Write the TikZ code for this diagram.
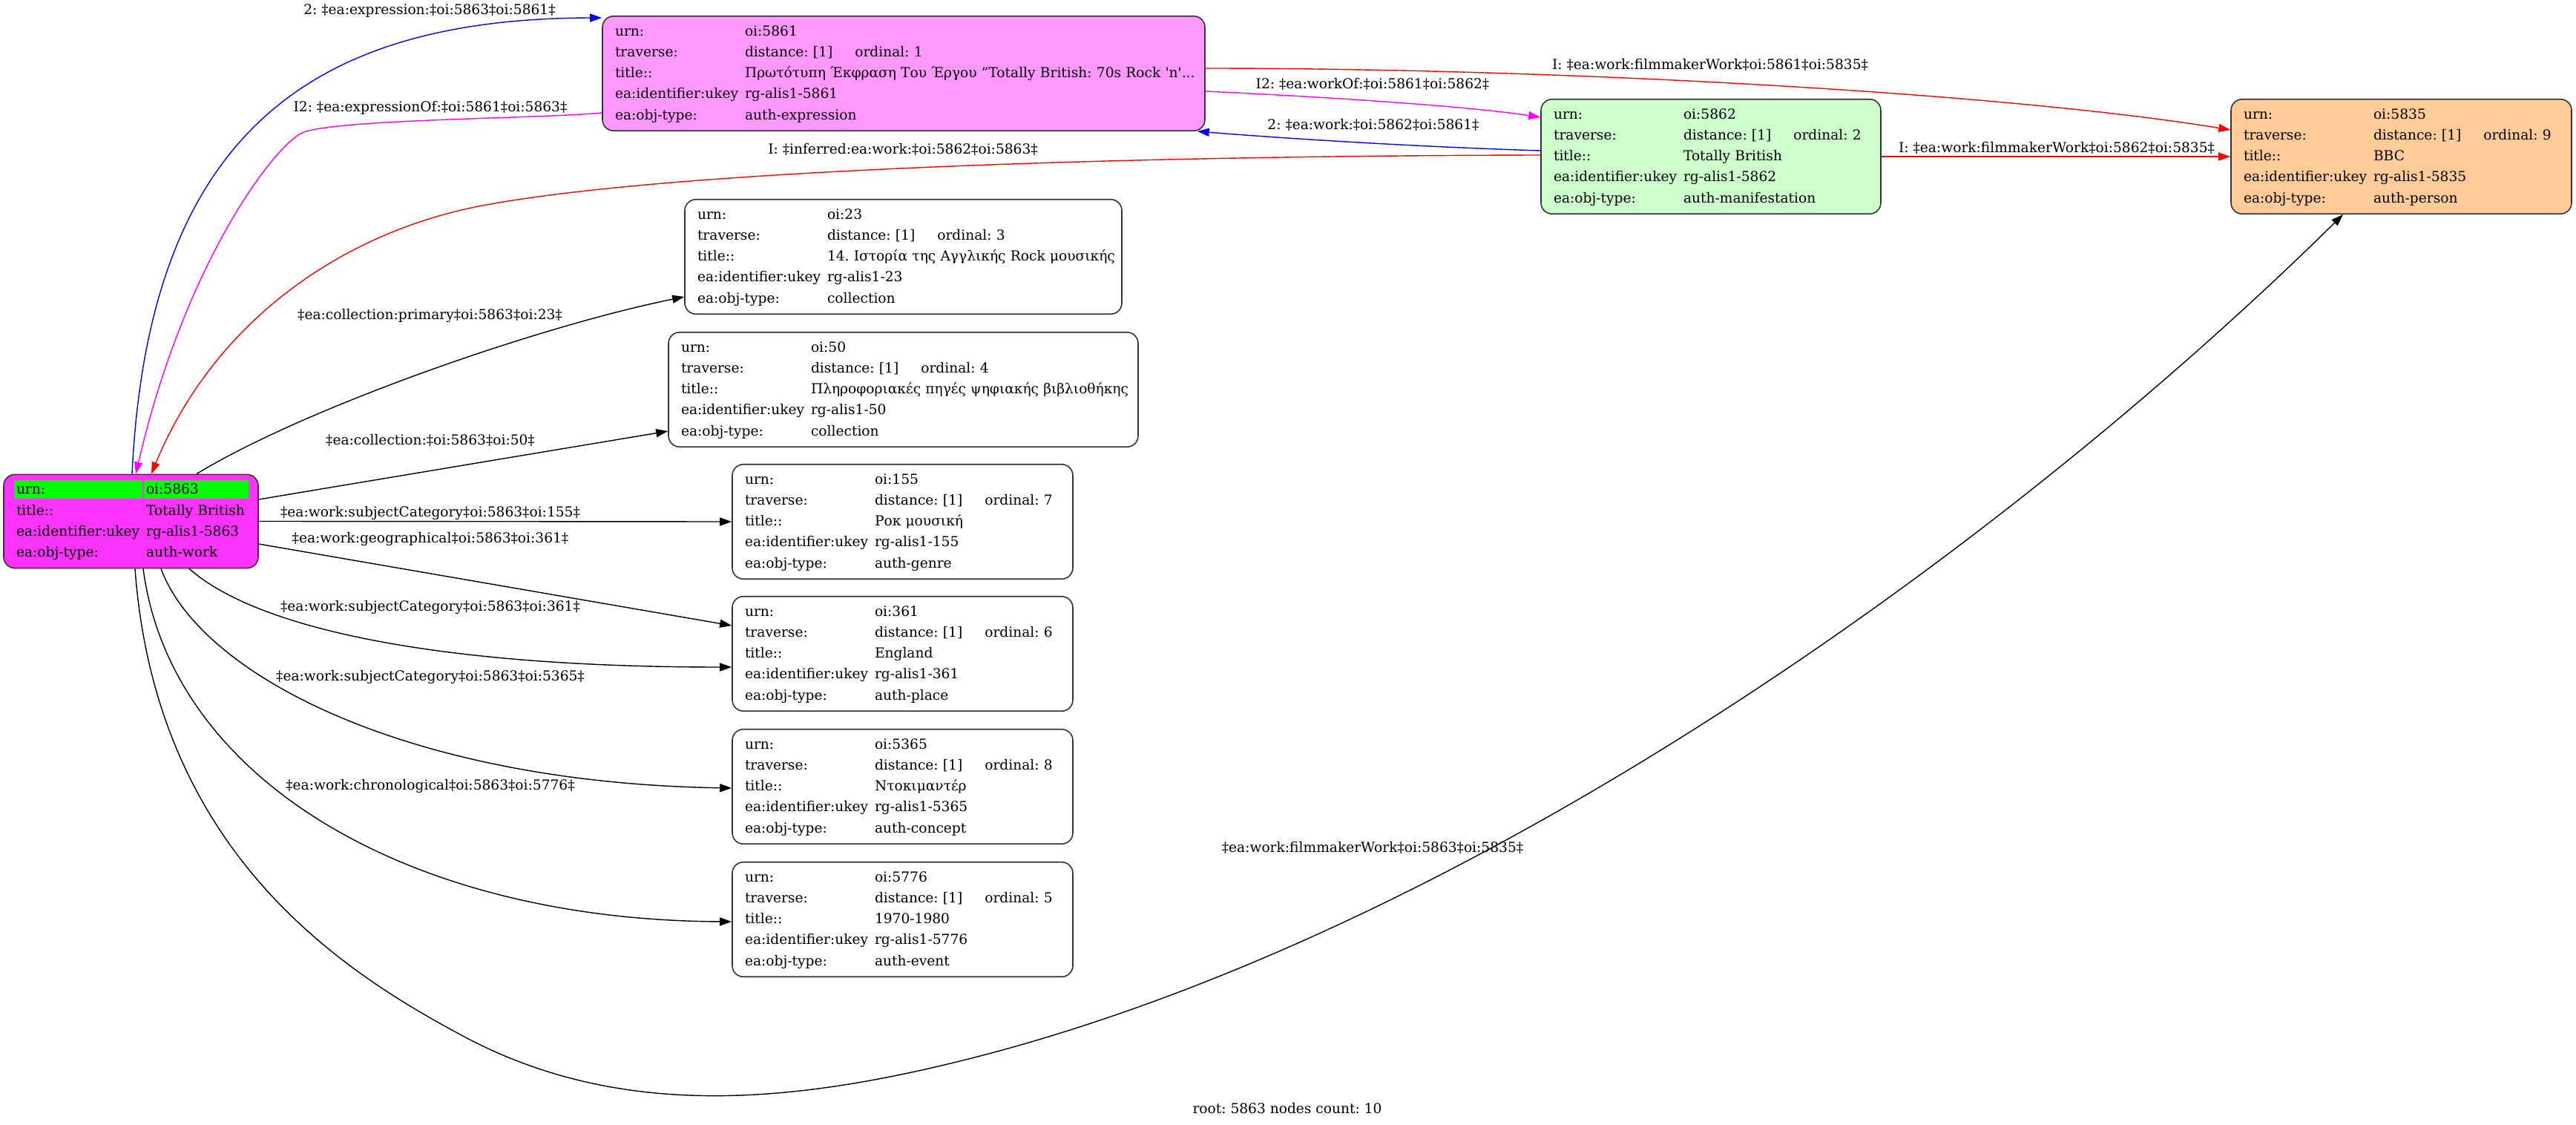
\documentclass[tikz,border=0pt]{standalone}
\usepackage{fontspec}
\setmainfont{DejaVu Serif}
\usepackage{tikz}
\usetikzlibrary{arrows.meta}

\definecolor{rootfill}{HTML}{FF33FF}
\definecolor{urngreen}{HTML}{00FF00}
\definecolor{exprfill}{HTML}{FF99FF}
\definecolor{manifill}{HTML}{CCFFCC}
\definecolor{personfill}{HTML}{FFCC99}
\definecolor{linkblue}{HTML}{0000FF}
\definecolor{linkred}{HTML}{FF0000}
\definecolor{linkmagenta}{HTML}{FF00FF}

\newcommand{\recordtab}[4]{%
\begin{tabular}{@{}p{3.5cm}@{}l@{\hspace{0.6cm}}l@{}}
urn: & \multicolumn{2}{@{}l@{}}{oi:#1}\\
traverse: & distance: [1] & ordinal: #2\\
title:: & \multicolumn{2}{@{}l@{}}{#3}\\
ea:identifier:ukey & \multicolumn{2}{@{}l@{}}{rg-alis1-#1}\\
ea:obj-type: & \multicolumn{2}{@{}l@{}}{#4}
\end{tabular}}

\frenchspacing

\begin{document}
\begin{tikzpicture}[line width=0.8pt,
  font=\fontsize{10.6}{16.1}\selectfont\frenchspacing,
  recbox/.style={draw=black!80, line width=0.9pt, rounded corners=0.3cm, inner xsep=0.34cm, inner ysep=0.13cm, align=left},
  link/.style={-{Triangle[length=0.32cm,width=0.22cm]}},
  lbl/.style={inner sep=0pt}]

\useasboundingbox (0,0) rectangle (69.44,-30.32);

\node[recbox, fill=rootfill, text width=6.18cm,
  path picture={\fill[urngreen, sharp corners] ([shift={(0.28,-0.16)}]path picture bounding box.north west) rectangle ++(3.46,-0.5);
                \fill[urngreen, sharp corners] ([shift={(3.78,-0.16)}]path picture bounding box.north west) rectangle ++(2.82,-0.5);}]
  (root) at (3.53,-14.05) {\begin{tabular}{@{}p{3.5cm}@{}l@{}}
urn: & oi:5863\\
title:: & Totally British\\
ea:identifier:ukey & rg-alis1-5863\\
ea:obj-type: & auth-work
\end{tabular}};

\node[recbox, fill=exprfill, text width=15.56cm] (n5861) at (24.36,-1.98)
  {\recordtab{5861}{1}{Πρωτότυπη Έκφραση Του Έργου "Totally British: 70s Rock \textquotesingle n\textquotesingle...}{auth-expression}};
\node[recbox, fill=manifill, text width=8.48cm] (n5862) at (46.12,-4.22) {\recordtab{5862}{2}{Totally British}{auth-manifestation}};
\node[recbox, fill=personfill, text width=8.5cm] (n5835) at (64.73,-4.22) {\recordtab{5835}{9}{BBC}{auth-person}};
\node[recbox, fill=white, text width=11.1cm] (n23) at (24.35,-6.92) {\recordtab{23}{3}{14. Ιστορία της Αγγλικής Rock μουσικής}{collection}};
\node[recbox, fill=white, text width=11.98cm] (n50) at (24.35,-10.5) {\recordtab{50}{4}{Πληροφοριακές πηγές ψηφιακής βιβλιοθήκης}{collection}};
\node[recbox, fill=white, text width=8.5cm] (n155) at (24.33,-14.06) {\recordtab{155}{7}{Ροκ μουσική}{auth-genre}};
\node[recbox, fill=white, text width=8.5cm] (n361) at (24.33,-17.62) {\recordtab{361}{6}{England}{auth-place}};
\node[recbox, fill=white, text width=8.5cm] (n5365) at (24.33,-21.2) {\recordtab{5365}{8}{Ντοκιμαντέρ}{auth-concept}};
\node[recbox, fill=white, text width=8.5cm] (n5776) at (24.33,-24.78) {\recordtab{5776}{5}{1970-1980}{auth-event}};

\draw[link, linkblue] ([xshift=0.03cm]root.north) .. controls (4.0,-3.5) and (8.5,-0.5) .. ([yshift=-0.06cm]n5861.north west);
\draw[link, linkmagenta] ([yshift=-1.06cm]n5861.west) .. controls (14.5,-3.2) and (9.5,-3.2) .. (8.24,-3.54)
  .. controls (7.5,-3.74) and (5.0,-7.0) .. ([xshift=0.13cm]root.north);
\draw[link, linkred] ([yshift=0.04cm]n5862.west) .. controls (30,-4.2) and (18,-4.6) .. (13,-5.54)
  .. controls (9.3,-6.24) and (5.8,-8.6) .. ([xshift=0.55cm]root.north);
\draw[link, linkblue] ([yshift=0.16cm]n5862.west) .. controls (38,-3.95) and (34.5,-3.72) .. ([xshift=-0.22cm]n5861.south east);
\draw[link, linkmagenta] ([yshift=-0.48cm]n5861.east) .. controls (35.5,-2.6) and (39.5,-2.85) .. ([yshift=1.06cm]n5862.west);
\draw[link, linkred] ([yshift=0.14cm]n5861.east) .. controls (42,-1.84) and (54,-2.5) .. ([yshift=0.72cm]n5835.west);
\draw[link, linkred] (n5862.east) -- (n5835.west);

\draw[link] ([xshift=1.77cm]root.north) .. controls (8.2,-11.0) and (14.5,-8.8) .. ([yshift=-1.08cm]n23.west);
\draw[link] ([yshift=0.59cm]root.east) -- ([yshift=-1.12cm]n50.west);
\draw[link] (root.east) -- (n155.west);
\draw[link] ([yshift=-0.61cm]root.east) -- ([yshift=0.76cm]n361.west);
\draw[link] ([xshift=1.57cm]root.south) .. controls (7.0,-17.0) and (12,-17.98) .. ([yshift=-0.36cm]n361.west);
\draw[link] ([xshift=0.81cm]root.south) .. controls (5.4,-18.2) and (11,-21.1) .. ([yshift=-0.04cm]n5365.west);
\draw[link] ([xshift=0.33cm]root.south) .. controls (4.6,-21) and (11,-24.8) .. ([yshift=-0.06cm]n5776.west);
\draw[link] ([xshift=0.11cm]root.south) .. controls (4.2,-23) and (9.27,-26.2) .. (12.44,-27.9)
  .. controls (16.76,-30.23) and (21.52,-29.77) .. (26.8,-28.36)
  .. controls (40,-24.8) and (54,-14.8) .. ([xshift=-1.57cm]n5835.south);

\node[lbl] (lexpr) at (11.58,-0.3) {2: ‡ea:expression:‡oi:5863‡oi:5861‡};
\node[lbl] (lexprof) at (11.6,-2.9) {I2: ‡ea:expressionOf:‡oi:5861‡oi:5863‡};
\node[lbl] (linferred) at (24.34,-4.02) {I: ‡inferred:ea:work:‡oi:5862‡oi:5863‡};
\node[lbl] (lfilmA) at (46.1,-1.75) {I: ‡ea:work:filmmakerWork‡oi:5861‡oi:5835‡};
\node[lbl] (lworkof) at (37.0,-2.27) {I2: ‡ea:workOf:‡oi:5861‡oi:5862‡};
\node[lbl] (lwork) at (37.02,-3.37) {2: ‡ea:work:‡oi:5862‡oi:5861‡};
\node[lbl] (lfilmB) at (55.44,-3.99) {I: ‡ea:work:filmmakerWork‡oi:5862‡oi:5835‡};
\node[lbl] (lprimary) at (11.59,-8.5) {‡ea:collection:primary‡oi:5863‡oi:23‡};
\node[lbl] (lcoll) at (11.6,-11.86) {‡ea:collection:‡oi:5863‡oi:50‡};
\node[lbl] (lsubjA) at (11.6,-13.83) {‡ea:work:subjectCategory‡oi:5863‡oi:155‡};
\node[lbl] (lgeo) at (11.6,-14.52) {‡ea:work:geographical‡oi:5863‡oi:361‡};
\node[lbl] (lsubjB) at (11.6,-16.36) {‡ea:work:subjectCategory‡oi:5863‡oi:361‡};
\node[lbl] (lsubjC) at (11.6,-18.24) {‡ea:work:subjectCategory‡oi:5863‡oi:5365‡};
\node[lbl] (lchrono) at (11.6,-21.18) {‡ea:work:chronological‡oi:5863‡oi:5776‡};
\node[lbl] (lfilmC) at (37.0,-22.84) {‡ea:work:filmmakerWork‡oi:5863‡oi:5835‡};
\node[lbl] (count) at (34.7,-29.88) {root: 5863 nodes count: 10};
\end{tikzpicture}
\end{document}
